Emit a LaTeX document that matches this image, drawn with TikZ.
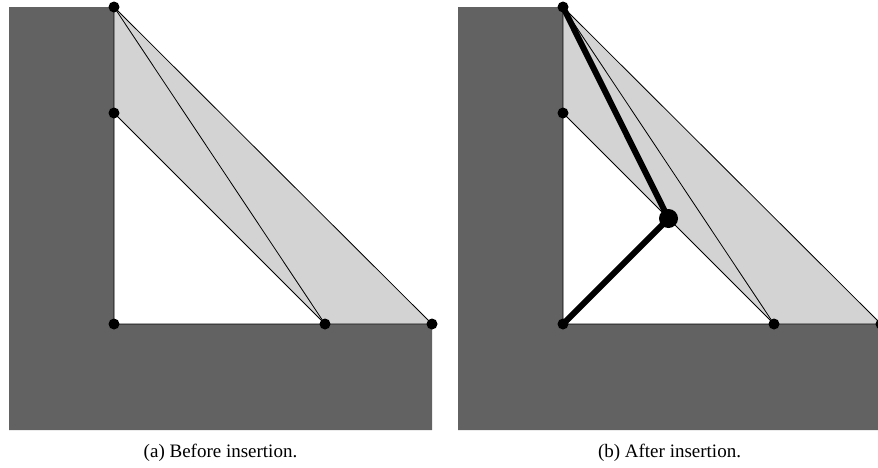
\documentclass[tikz,border=0pt]{standalone}
\usepackage{fontspec}
\setmainfont{Liberation Serif}
\usetikzlibrary{calc}
\definecolor{wallgray}{RGB}{98,98,98}
\definecolor{gapgray}{RGB}{211,211,211}
\begin{document}
\begin{tikzpicture}[x=1pt,y=-1pt,
  wall/.style={fill=wallgray},
  gap/.style={fill=gapgray},
  edge/.style={draw=black,line width=0.8pt},
  newedge/.style={draw=black,line width=6pt,line cap=round},
  dot/.style={circle,fill=black,inner sep=0pt,minimum size=11pt},
  bigdot/.style={circle,fill=black,inner sep=0pt,minimum size=19pt},
  caption/.style={anchor=base,font=\fontsize{19}{22}\selectfont}]
\useasboundingbox (0,0) rectangle (878,467);
\clip (0,0) rectangle (878,467);

% ---- panel (a): before insertion ----
\coordinate (aA) at (114,7);
\coordinate (aB) at (114,113);
\coordinate (aC) at (114,324);
\coordinate (aD) at (325,324);
\coordinate (aE) at (432,324);
\fill[wall] (9,7) -- (aA) -- (aC) -- (aE) -- (432,430) -- (9,430) -- cycle;
\fill[gap] (aA) -- (aE) -- (aD) -- (aB) -- cycle;
\draw[edge] (aA) -- (aC) -- (aE) -- cycle;
\draw[edge] (aB) -- (aD);
\draw[edge] (aA) -- (aD);
\foreach \p in {A,B,C,D,E} \node[dot] (adot\p) at (a\p) {};
\node[caption] (acap) at (220.5,457) {(a) Before insertion.};

% ---- panel (b): after insertion ----
\coordinate (bA) at (563,7);
\coordinate (bB) at (563,113);
\coordinate (bC) at (563,324);
\coordinate (bD) at (774,324);
\coordinate (bE) at (881,324);
\coordinate (bQ) at ($(bB)!0.5!(bD)$);
\fill[wall] (458,7) -- (bA) -- (bC) -- (bE) -- (881,430) -- (458,430) -- cycle;
\fill[gap] (bA) -- (bE) -- (bD) -- (bB) -- cycle;
\draw[edge] (bA) -- (bC) -- (bE) -- cycle;
\draw[edge] (bB) -- (bD);
\draw[edge] (bA) -- (bD);
\draw[newedge] (bA) -- (bQ);
\draw[newedge] (bC) -- (bQ);
\foreach \p in {A,B,C,D,E} \node[dot] (bdot\p) at (b\p) {};
\node[bigdot] (bdotQ) at (bQ) {};
\node[caption] (bcap) at (669.5,457) {(b) After insertion.};
\end{tikzpicture}
\end{document}
